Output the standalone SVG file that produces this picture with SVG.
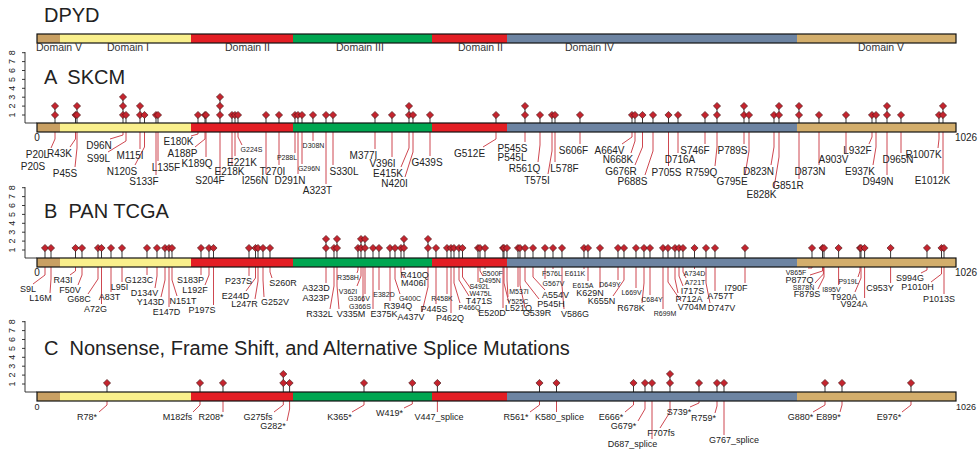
<svg xmlns="http://www.w3.org/2000/svg" xmlns:xlink="http://www.w3.org/1999/xlink" width="980" height="457" viewBox="0 0 980 457">
<style>
text{font-family:"Liberation Sans",Arial,sans-serif;fill:#222}
.t{font-size:20px;white-space:pre}
.dm{font-size:10.5px;fill:#333}
.la{font-size:10px;text-anchor:middle}
.lb{font-size:9px;text-anchor:middle}
.ls{font-size:7px;text-anchor:middle}
.ax{font-size:9px;text-anchor:middle;dominant-baseline:central}
.ll{stroke:#c8323c;stroke-width:0.9;fill:none}
.st{stroke:#222;stroke-width:0.9;fill:none}
.axl{stroke:#222;stroke-width:0.9;fill:none}
.bo{fill:none;stroke:#111;stroke-width:1.2}
</style>
<defs>
<path id="d" d="M0,-3.6 L3.6,0 L0,3.6 L-3.6,0Z" fill="#c4242e" stroke="#3a1010" stroke-width="0.6"/>
<g id="bar">
<rect x="37" y="0" width="23" height="9" fill="#c9a063"/>
<rect x="60" y="0" width="131" height="9" fill="#f9ef8c"/>
<rect x="191" y="0" width="102" height="9" fill="#e31e24"/>
<rect x="293" y="0" width="139" height="9" fill="#00a651"/>
<rect x="432" y="0" width="75" height="9" fill="#e31e24"/>
<rect x="507" y="0" width="290" height="9" fill="#6d84a2"/>
<rect x="797" y="0" width="159" height="9" fill="#d3ae6c"/>
<rect x="37" y="0" width="919" height="9" class="bo"/>
</g>
<g id="axis">
<path class="axl" d="M25,-71 V0 H37 M25,-8 h-3 M25,-16.9 h-3 M25,-25.8 h-3 M25,-34.7 h-3 M25,-43.6 h-3 M25,-52.5 h-3 M25,-61.4 h-3 M25,-70.3 h-3"/>
<text class="ax" transform="translate(12,-8) rotate(-90)">1</text>
<text class="ax" transform="translate(12,-16.9) rotate(-90)">2</text>
<text class="ax" transform="translate(12,-25.8) rotate(-90)">3</text>
<text class="ax" transform="translate(12,-34.7) rotate(-90)">4</text>
<text class="ax" transform="translate(12,-43.6) rotate(-90)">5</text>
<text class="ax" transform="translate(12,-52.5) rotate(-90)">6</text>
<text class="ax" transform="translate(12,-61.4) rotate(-90)">7</text>
<text class="ax" transform="translate(12,-70.3) rotate(-90)">8</text>
</g>
</defs>

<g id="dpyd">
<text class="t" x="44" y="22">DPYD</text>
<use href="#bar" y="34"/>
<text class="dm" x="36" y="51">Domain V</text>
<text class="dm" x="107" y="51">Domain I</text>
<text class="dm" x="225" y="51">Domain II</text>
<text class="dm" x="336" y="51">Domain III</text>
<text class="dm" x="458" y="51">Domain II</text>
<text class="dm" x="565" y="51">Domain IV</text>
<text class="dm" x="858" y="51">Domain V</text>
</g>

<g id="connectors">
<path class="st" d="M55,123V106 M75.5,123V115 M77,123V106 M123,123V97 M126,123V115 M140,123V106 M144.5,123V115 M156,123V115 M158,123V115 M198,123V115 M205,123V115 M206,123V115 M220,123V97 M232,123V115 M235,123V115 M238,123V115 M266,123V115 M279,123V115 M295,123V115 M298,123V115 M302,123V115 M313,123V115 M326,123V115 M333,123V115 M375,123V115 M392,123V115 M409,123V106 M413,123V115 M430,123V115 M496,123V115 M525,123V106 M540,123V115 M552,123V115 M555,123V115 M580,123V115 M632,123V115 M635,123V115 M642.5,123V115 M653,123V115 M668.5,123V115 M678,123V115 M705,123V115 M717,123V106 M744,123V106 M749,123V115 M774,123V115 M779,123V106 M799,123V106 M819,123V115 M846,123V115 M872,123V115 M876,123V115 M887,123V106 M901,123V115 M939,123V115 M943,123V106"/>
<path class="ll" d="M55,132V139L51,148 M75.5,132V139L70,147 M77,132V148L75,167 M123,132V135L110,139 M126,132V141L108,152 M140,132V149 M144.5,132V147L135,165 M158,132V161 M156,132V151L156,175 M198,132V134L191,136 M205,132V139L195,147 M206,132V157 M220,132V174 M232,132V165 M235,132V156 M238,132V137L242,145 M266,132V174 M279,132V165 M295,132V153 M298,132V174 M302,132V164 M313,132V141 M326,132V184 M333,132V165 M375,132V149 M392,132V157 M409,132V148L401,167 M413,132V152L405,177 M430,132V156 M496,132V139L483,147 M525,132V142 M540,132V145L538,162 M552,132V151L548,174 M555,132V162 M580,132V137L580,144 M632,132V137L622,144 M635,132V141L631,153 M642.5,132V147L635,165 M653,132V151L645,175 M668.5,132V166 M678,132V153 M705,132V144 M717,132V147L715,166 M744,132V144 M749,132V151L745,175 M774,132V147L771,165 M779,132V157L774,188 M799,132V179 M819,132V165 M846,132V153 M872,132V137L869,144 M876,132V147L873,165 M887,132V175 M901,132V153 M939,132V139L938,148 M943,132V174"/>

<path class="st" d="M45,258V248 M51,258V248 M75.5,258V248 M82,258V248 M98,258V248 M101.5,258V248 M111,258V248 M122,258V248 M147,258V248 M157,258V248 M165,258V248 M169,258V248 M172,258V248 M201,258V248 M209,258V248 M213.5,258V248 M249,258V248 M255.5,258V248 M258,258V248 M263,258V248 M270,258V248 M326,258V239 M334,258V248 M337,258V239 M358,258V248 M361,258V239 M365,258V239 M373,258V248 M379,258V248 M390,258V248 M395,258V248 M401,258V248 M404,258V239 M428,258V239 M436,258V248 M447,258V248 M451,258V248 M454,258V248 M459,258V248 M462.5,258V248 M478,258V248 M480,258V248 M485,258V248 M503,258V248 M504,258V248 M507,258V248 M518,258V248 M520,258V248 M525,258V248 M533,258V248 M545,258V248 M553,258V248 M562,258V248 M584,258V248 M588,258V248 M600,258V248 M618,258V248 M624,258V248 M636,258V248 M644,258V248 M650,258V248 M663,258V248 M668,258V248 M675,258V248 M679,258V248 M683,258V248 M694.5,258V248 M706,258V248 M715,258V248 M745,258V248 M812,258V248 M822.5,258V248 M824,258V248 M838.6,258V248 M860,258V248 M861,258V248 M864.6,258V248 M890.6,258V248 M927,258V248 M941.5,258V248 M944,258V248"/>
<path class="ll" d="M45,267V275L33,284 M51,267V279L50,293 M75.5,267V271L70,275 M82,267V275L78,285 M98,267V279L88,294 M101.5,267V304 M111,267V292 M122,267V282 M147,267V275 M157,267V276L155,288 M165,267V280L161,297 M169,267V307 M172,267V280L177,296 M201,267V275 M209,267V275L205,285 M213.5,267V305 M249,267V276 M255.5,267V278L246,291 M258,267V281L255,299 M263,267V280L264,297 M270,267V272L272,278 M326,267V283 M334,267V286L330,309 M337,267V286L339,309 M358,267V270L357,273 M361,267V276L357,286 M365,267V294 M363,267V302 M373,267V309 M379,267V290 M390,267V301 M395,267V279L400,294 M401,267V272L404,278 M404,267V270 M428,267V287L422,312 M436,267V304 M447,267V294 M451,267V313 M454,267V283L460,303 M459,267V280L469,296 M462.5,267V277L471,289 M478,267V282 M480,267V271L483,276 M485,267V269 M503,267V308 M504,267V283L509,303 M507,267V280L508,297 M518,267V287 M520,267V285L525,308 M525,267V281L539,299 M533,267V277L545,290 M545,267V279 M553,267V269 M562,267V286L564,309 M584,267V269 M588,267V281 M600,267V288 M618,267V280 M624,267V280L613,296 M636,267V288 M644,267V283L642,303 M650,267V295 M663,267V309 M668,267V282L681,301 M675,267V279L678,293 M679,267V276L683,286 M683,267V272L686,278 M694.5,267V269 M715,267V291 M706,267V283L710,303 M745,267V283 M812,267V268L808,268 M822.5,267V271L810,275 M823.4,267V274L815,283 M824,267V277L818,289 M838.6,267V285 M860,267V271L858,277 M861,267V278L855,292 M864.6,267V298 M890.6,267V283 M927,267V270L921,273 M941.5,267V274L931,282 M944,267V294"/>

<path class="st" d="M107,392V383 M200,392V383 M223,392V383 M283.3,392V374 M289.6,392V383 M364,392V383 M412.3,392V383 M437.4,392V383 M539.5,392V383 M556.5,392V383 M633.5,392V383 M645,392V383 M652,392V383 M670,392V374 M699,392V383 M717,392V383 M724,392V383 M825,392V383 M842,392V383 M911,392V383"/>
<path class="ll" d="M107,401V405L99,412 M200,401V405L193,412 M223,401V412 M283.3,401V405L274,412 M289.6,401V409L287,421 M364,401V405L352,412 M412.3,401V404L404,408 M437.4,401V412 M539.5,401V405L530,412 M556.5,401V412 M633.5,401V405L625,412 M645,401V409L638,421 M652,401V439 M670,401V412L660,428 M699,401V403L690,407 M717,401V406L715,413 M724,401V435 M825,401V405L813,412 M842,401V405L840,412 M911,401V405L902,412"/>
</g>

<g id="skcm">
<text class="t" x="44" y="84" xml:space="preserve">A  SKCM</text>
<use href="#axis" y="123"/>
<use href="#bar" y="123"/>
<text class="la" x="37" y="141">0</text>
<text class="la" x="966" y="141">1026</text>
<g>
<use href="#d" x="55" y="115"/><use href="#d" x="55" y="106"/>
<use href="#d" x="75.5" y="115"/>
<use href="#d" x="77" y="115"/><use href="#d" x="77" y="106"/>
<use href="#d" x="123" y="115"/><use href="#d" x="123" y="106"/><use href="#d" x="123" y="97"/>
<use href="#d" x="126" y="115"/>
<use href="#d" x="140" y="115"/><use href="#d" x="140" y="106"/>
<use href="#d" x="144.5" y="115"/><use href="#d" x="156" y="115"/><use href="#d" x="158" y="115"/>
<use href="#d" x="198" y="115"/><use href="#d" x="205" y="115"/><use href="#d" x="206" y="115"/>
<use href="#d" x="220" y="115"/><use href="#d" x="220" y="106"/><use href="#d" x="220" y="97"/>
<use href="#d" x="232" y="115"/><use href="#d" x="235" y="115"/><use href="#d" x="238" y="115"/>
<use href="#d" x="266" y="115"/><use href="#d" x="279" y="115"/><use href="#d" x="295" y="115"/><use href="#d" x="298" y="115"/><use href="#d" x="302" y="115"/><use href="#d" x="313" y="115"/><use href="#d" x="326" y="115"/><use href="#d" x="333" y="115"/>
<use href="#d" x="375" y="115"/><use href="#d" x="392" y="115"/>
<use href="#d" x="409" y="115"/><use href="#d" x="409" y="106"/>
<use href="#d" x="413" y="115"/><use href="#d" x="430" y="115"/><use href="#d" x="496" y="115"/>
<use href="#d" x="525" y="115"/><use href="#d" x="525" y="106"/>
<use href="#d" x="540" y="115"/><use href="#d" x="552" y="115"/><use href="#d" x="555" y="115"/><use href="#d" x="580" y="115"/>
<use href="#d" x="632" y="115"/><use href="#d" x="635" y="115"/><use href="#d" x="642.5" y="115"/><use href="#d" x="653" y="115"/><use href="#d" x="668.5" y="115"/><use href="#d" x="678" y="115"/><use href="#d" x="705" y="115"/>
<use href="#d" x="717" y="115"/><use href="#d" x="717" y="106"/>
<use href="#d" x="744" y="115"/><use href="#d" x="744" y="106"/>
<use href="#d" x="749" y="115"/><use href="#d" x="774" y="115"/>
<use href="#d" x="779" y="115"/><use href="#d" x="779" y="106"/>
<use href="#d" x="799" y="115"/><use href="#d" x="799" y="106"/>
<use href="#d" x="819" y="115"/><use href="#d" x="846" y="115"/><use href="#d" x="872" y="115"/><use href="#d" x="876" y="115"/>
<use href="#d" x="887" y="115"/><use href="#d" x="887" y="106"/>
<use href="#d" x="901" y="115"/><use href="#d" x="939" y="115"/>
<use href="#d" x="943" y="115"/><use href="#d" x="943" y="106"/>
</g>
<g>
<text class="la" x="37.5" y="158">P20L</text>
<text class="la" x="33" y="170">P20S</text>
<text class="la" x="59.5" y="157">R43K</text>
<text class="la" x="65" y="177">P45S</text>
<text class="la" x="99" y="149">D96N</text>
<text class="la" x="98.5" y="162">S99L</text>
<text class="la" x="130" y="159">M115I</text>
<text class="la" x="122" y="175">N120S</text>
<text class="la" x="166" y="171">L135F</text>
<text class="la" x="144" y="185">S133F</text>
<text class="la" x="178.5" y="145">E180K</text>
<text class="la" x="182.5" y="157">A188P</text>
<text class="la" x="197" y="167">K189Q</text>
<text class="la" x="210" y="184">S204F</text>
<text class="la" x="229.5" y="175">E218K</text>
<text class="la" x="242" y="166">E221K</text>
<text class="ls" x="251.5" y="152">G224S</text>
<text class="la" x="255" y="184">I256N</text>
<text class="la" x="272.5" y="175">T270I</text>
<text class="ls" x="287" y="160">P288L</text>
<text class="la" x="290" y="184">D291N</text>
<text class="ls" x="309" y="171">G296N</text>
<text class="ls" x="313.5" y="148">D308N</text>
<text class="la" x="317.5" y="194">A323T</text>
<text class="la" x="344" y="175">S330L</text>
<text class="la" x="363.5" y="159">M377I</text>
<text class="la" x="382.5" y="167">V396I</text>
<text class="la" x="388" y="177">E415K</text>
<text class="la" x="394.5" y="187">N420I</text>
<text class="la" x="427" y="166">G439S</text>
<text class="la" x="469.5" y="157">G512E</text>
<text class="la" x="512.5" y="152">P545S</text>
<text class="la" x="512" y="161">P545L</text>
<text class="la" x="524.5" y="172">R561Q</text>
<text class="la" x="537" y="184">T575I</text>
<text class="la" x="564.5" y="172">L578F</text>
<text class="la" x="573.5" y="154">S606F</text>
<text class="la" x="609.5" y="154">A664V</text>
<text class="la" x="618" y="163">N668K</text>
<text class="la" x="621" y="175">G676R</text>
<text class="la" x="632.5" y="185">P688S</text>
<text class="la" x="666.5" y="176">P705S</text>
<text class="la" x="680" y="163">D716A</text>
<text class="la" x="695" y="154">S746F</text>
<text class="la" x="701.5" y="176">R759Q</text>
<text class="la" x="732.5" y="154">P789S</text>
<text class="la" x="732" y="185">G795E</text>
<text class="la" x="758.5" y="175">D823N</text>
<text class="la" x="761.5" y="198">E828K</text>
<text class="la" x="788" y="189">G851R</text>
<text class="la" x="810" y="175">D873N</text>
<text class="la" x="833.5" y="163">A903V</text>
<text class="la" x="857.5" y="154">L932F</text>
<text class="la" x="860" y="175">E937K</text>
<text class="la" x="878" y="185">D949N</text>
<text class="la" x="898" y="163">D965N</text>
<text class="la" x="923.5" y="158">R1007K</text>
<text class="la" x="932.5" y="184">E1012K</text>
</g>
</g>

<g id="pantcga">
<text class="t" x="44" y="218" xml:space="preserve">B  PAN TCGA</text>
<use href="#axis" y="258"/>
<use href="#bar" y="258"/>
<text class="la" x="37" y="276">0</text>
<text class="la" x="966" y="276">1026</text>
<g>
<use href="#d" x="45" y="248"/><use href="#d" x="51" y="248"/><use href="#d" x="75.5" y="248"/><use href="#d" x="82" y="248"/><use href="#d" x="98" y="248"/><use href="#d" x="101.5" y="248"/><use href="#d" x="111" y="248"/><use href="#d" x="122" y="248"/><use href="#d" x="147" y="248"/><use href="#d" x="157" y="248"/><use href="#d" x="165" y="248"/><use href="#d" x="169" y="248"/><use href="#d" x="172" y="248"/><use href="#d" x="201" y="248"/><use href="#d" x="209" y="248"/><use href="#d" x="213.5" y="248"/><use href="#d" x="249" y="248"/><use href="#d" x="255.5" y="248"/><use href="#d" x="258" y="248"/><use href="#d" x="263" y="248"/><use href="#d" x="270" y="248"/>
<use href="#d" x="326" y="248"/><use href="#d" x="326" y="239"/>
<use href="#d" x="334" y="248"/>
<use href="#d" x="337" y="248"/><use href="#d" x="337" y="239"/>
<use href="#d" x="358" y="248"/>
<use href="#d" x="361" y="248"/><use href="#d" x="361" y="239"/>
<use href="#d" x="365" y="248"/><use href="#d" x="365" y="239"/>
<use href="#d" x="373" y="248"/><use href="#d" x="379" y="248"/><use href="#d" x="390" y="248"/><use href="#d" x="395" y="248"/><use href="#d" x="401" y="248"/>
<use href="#d" x="404" y="248"/><use href="#d" x="404" y="239"/>
<use href="#d" x="428" y="248"/><use href="#d" x="428" y="239"/>
<use href="#d" x="436" y="248"/><use href="#d" x="447" y="248"/><use href="#d" x="451" y="248"/><use href="#d" x="454" y="248"/><use href="#d" x="459" y="248"/><use href="#d" x="462.5" y="248"/><use href="#d" x="478" y="248"/><use href="#d" x="480" y="248"/><use href="#d" x="485" y="248"/><use href="#d" x="503" y="248"/><use href="#d" x="504" y="248"/><use href="#d" x="507" y="248"/><use href="#d" x="518" y="248"/><use href="#d" x="520" y="248"/><use href="#d" x="525" y="248"/><use href="#d" x="533" y="248"/><use href="#d" x="545" y="248"/><use href="#d" x="553" y="248"/><use href="#d" x="562" y="248"/><use href="#d" x="584" y="248"/><use href="#d" x="588" y="248"/><use href="#d" x="600" y="248"/><use href="#d" x="618" y="248"/><use href="#d" x="624" y="248"/><use href="#d" x="636" y="248"/><use href="#d" x="644" y="248"/><use href="#d" x="650" y="248"/><use href="#d" x="663" y="248"/><use href="#d" x="668" y="248"/><use href="#d" x="675" y="248"/><use href="#d" x="679" y="248"/><use href="#d" x="683" y="248"/><use href="#d" x="694.5" y="248"/><use href="#d" x="706" y="248"/><use href="#d" x="715" y="248"/><use href="#d" x="745" y="248"/><use href="#d" x="812" y="248"/><use href="#d" x="822.5" y="248"/><use href="#d" x="824" y="248"/><use href="#d" x="838.6" y="248"/><use href="#d" x="860" y="248"/><use href="#d" x="861" y="248"/><use href="#d" x="864.6" y="248"/><use href="#d" x="890.6" y="248"/><use href="#d" x="927" y="248"/><use href="#d" x="941.5" y="248"/><use href="#d" x="944" y="248"/>
</g>
<g>
<text class="lb" x="28" y="292">S9L</text>
<text class="lb" x="40.5" y="301">L16M</text>
<text class="lb" x="63" y="283">R43I</text>
<text class="lb" x="70" y="293">F50V</text>
<text class="lb" x="79" y="302">G68C</text>
<text class="lb" x="95.5" y="312">A72G</text>
<text class="lb" x="109.5" y="300">A83T</text>
<text class="lb" x="119.5" y="290">L95I</text>
<text class="lb" x="139" y="283">G123C</text>
<text class="lb" x="144.5" y="296">D134V</text>
<text class="lb" x="150.5" y="305">Y143D</text>
<text class="lb" x="166.5" y="315">E147D</text>
<text class="lb" x="183" y="304">N151T</text>
<text class="lb" x="190.5" y="283">S183P</text>
<text class="lb" x="195" y="293">L192F</text>
<text class="lb" x="202" y="313">P197S</text>
<text class="lb" x="238.5" y="284">P237S</text>
<text class="lb" x="235.5" y="299">E244D</text>
<text class="lb" x="244.5" y="307">L247R</text>
<text class="lb" x="275" y="305">G252V</text>
<text class="lb" x="283" y="286">S260R</text>
<text class="lb" x="316" y="291">A323D</text>
<text class="lb" x="316" y="301">A323P</text>
<text class="lb" x="319.5" y="317">R332L</text>
<text class="lb" x="351" y="317">V335M</text>
<text class="ls" x="348" y="280">R358H</text>
<text class="ls" x="348" y="294">V362I</text>
<text class="ls" x="359" y="301">G366V</text>
<text class="ls" x="360" y="309">G366S</text>
<text class="lb" x="384" y="317">E375K</text>
<text class="ls" x="384" y="297">E382D</text>
<text class="lb" x="398" y="309">R394Q</text>
<text class="ls" x="410" y="301">G400C</text>
<text class="lb" x="413.5" y="286">M406I</text>
<text class="lb" x="414.5" y="278">R410Q</text>
<text class="lb" x="411" y="320">A437V</text>
<text class="lb" x="434" y="312">P445S</text>
<text class="ls" x="442" y="301">R458K</text>
<text class="lb" x="450" y="321">P462Q</text>
<text class="ls" x="469.5" y="310">P466Q</text>
<text class="lb" x="479" y="304">T471S</text>
<text class="ls" x="480.5" y="296">W475L</text>
<text class="ls" x="479.5" y="289">S492L</text>
<text class="ls" x="490" y="283">D495N</text>
<text class="ls" x="492.5" y="276">S500F</text>
<text class="lb" x="492" y="316">E520D</text>
<text class="lb" x="518.5" y="311">L521Q</text>
<text class="ls" x="517.5" y="304">Y525C</text>
<text class="ls" x="519" y="294">M537I</text>
<text class="lb" x="537" y="316">G539R</text>
<text class="lb" x="551" y="307">P545H</text>
<text class="lb" x="555.5" y="298">A554V</text>
<text class="ls" x="553.5" y="286">G567V</text>
<text class="ls" x="552" y="276">F576L</text>
<text class="lb" x="575" y="317">V586G</text>
<text class="ls" x="575" y="276">E611K</text>
<text class="ls" x="583" y="288">E615A</text>
<text class="lb" x="590" y="296">K629N</text>
<text class="ls" x="610" y="287">D649Y</text>
<text class="lb" x="601.5" y="304">K655N</text>
<text class="ls" x="631.5" y="295">L669V</text>
<text class="lb" x="631" y="311">R678K</text>
<text class="ls" x="652" y="302">C684Y</text>
<text class="ls" x="665" y="316">R699M</text>
<text class="lb" x="692" y="310">V704M</text>
<text class="lb" x="689" y="302">P712A</text>
<text class="lb" x="692.5" y="294">I717S</text>
<text class="ls" x="695" y="285">A721T</text>
<text class="ls" x="694.5" y="276">A734D</text>
<text class="lb" x="720.5" y="299">A757T</text>
<text class="lb" x="721.5" y="311">D747V</text>
<text class="lb" x="736" y="291">I790F</text>
<text class="ls" x="796" y="275">V865F</text>
<text class="lb" x="799.5" y="283">P877Q</text>
<text class="ls" x="803.5" y="290">S878N</text>
<text class="lb" x="807" y="297">F879S</text>
<text class="ls" x="831.5" y="292">I895V</text>
<text class="ls" x="848.5" y="284">P919L</text>
<text class="lb" x="844" y="300">T920A</text>
<text class="lb" x="854" y="307">V924A</text>
<text class="lb" x="880" y="291">C953Y</text>
<text class="lb" x="910" y="281">S994G</text>
<text class="lb" x="917.5" y="290">P1010H</text>
<text class="lb" x="939" y="302">P1013S</text>
</g>
</g>

<g id="nonsense">
<text class="t" x="44" y="355">C  Nonsense, Frame Shift, and Alternative Splice Mutations</text>
<use href="#axis" y="392"/>
<use href="#bar" y="392"/>
<text class="lb" x="37" y="410">0</text>
<text class="lb" x="966" y="410">1026</text>
<g>
<use href="#d" x="107" y="383"/><use href="#d" x="200" y="383"/><use href="#d" x="223" y="383"/>
<use href="#d" x="283.3" y="383"/><use href="#d" x="283.3" y="374"/>
<use href="#d" x="289.6" y="383"/><use href="#d" x="364" y="383"/><use href="#d" x="412.3" y="383"/><use href="#d" x="437.4" y="383"/><use href="#d" x="539.5" y="383"/><use href="#d" x="556.5" y="383"/><use href="#d" x="633.5" y="383"/><use href="#d" x="645" y="383"/><use href="#d" x="652" y="383"/>
<use href="#d" x="670" y="383"/><use href="#d" x="670" y="374"/>
<use href="#d" x="699" y="383"/><use href="#d" x="717" y="383"/><use href="#d" x="724" y="383"/><use href="#d" x="825" y="383"/><use href="#d" x="842" y="383"/><use href="#d" x="911" y="383"/>
</g>
<g>
<text class="lb" x="87" y="420">R78*</text>
<text class="lb" x="177.5" y="420">M182fs</text>
<text class="lb" x="211" y="420">R208*</text>
<text class="lb" x="258" y="420">G275fs</text>
<text class="lb" x="273" y="429">G282*</text>
<text class="lb" x="339.5" y="420">K365*</text>
<text class="lb" x="389.5" y="416">W419*</text>
<text class="lb" x="439" y="420">V447_splice</text>
<text class="lb" x="516" y="420">R561*</text>
<text class="lb" x="559.5" y="420">K580_splice</text>
<text class="lb" x="611" y="420">E666*</text>
<text class="lb" x="623.5" y="429">G679*</text>
<text class="lb" x="632.5" y="447">D687_splice</text>
<text class="lb" x="661" y="436">F707fs</text>
<text class="lb" x="679" y="415">S739*</text>
<text class="lb" x="703.5" y="421">R759*</text>
<text class="lb" x="734" y="443">G767_splice</text>
<text class="lb" x="800.5" y="420">G880*</text>
<text class="lb" x="828.5" y="420">E899*</text>
<text class="lb" x="889" y="420">E976*</text>
</g>
</g>
</svg>
